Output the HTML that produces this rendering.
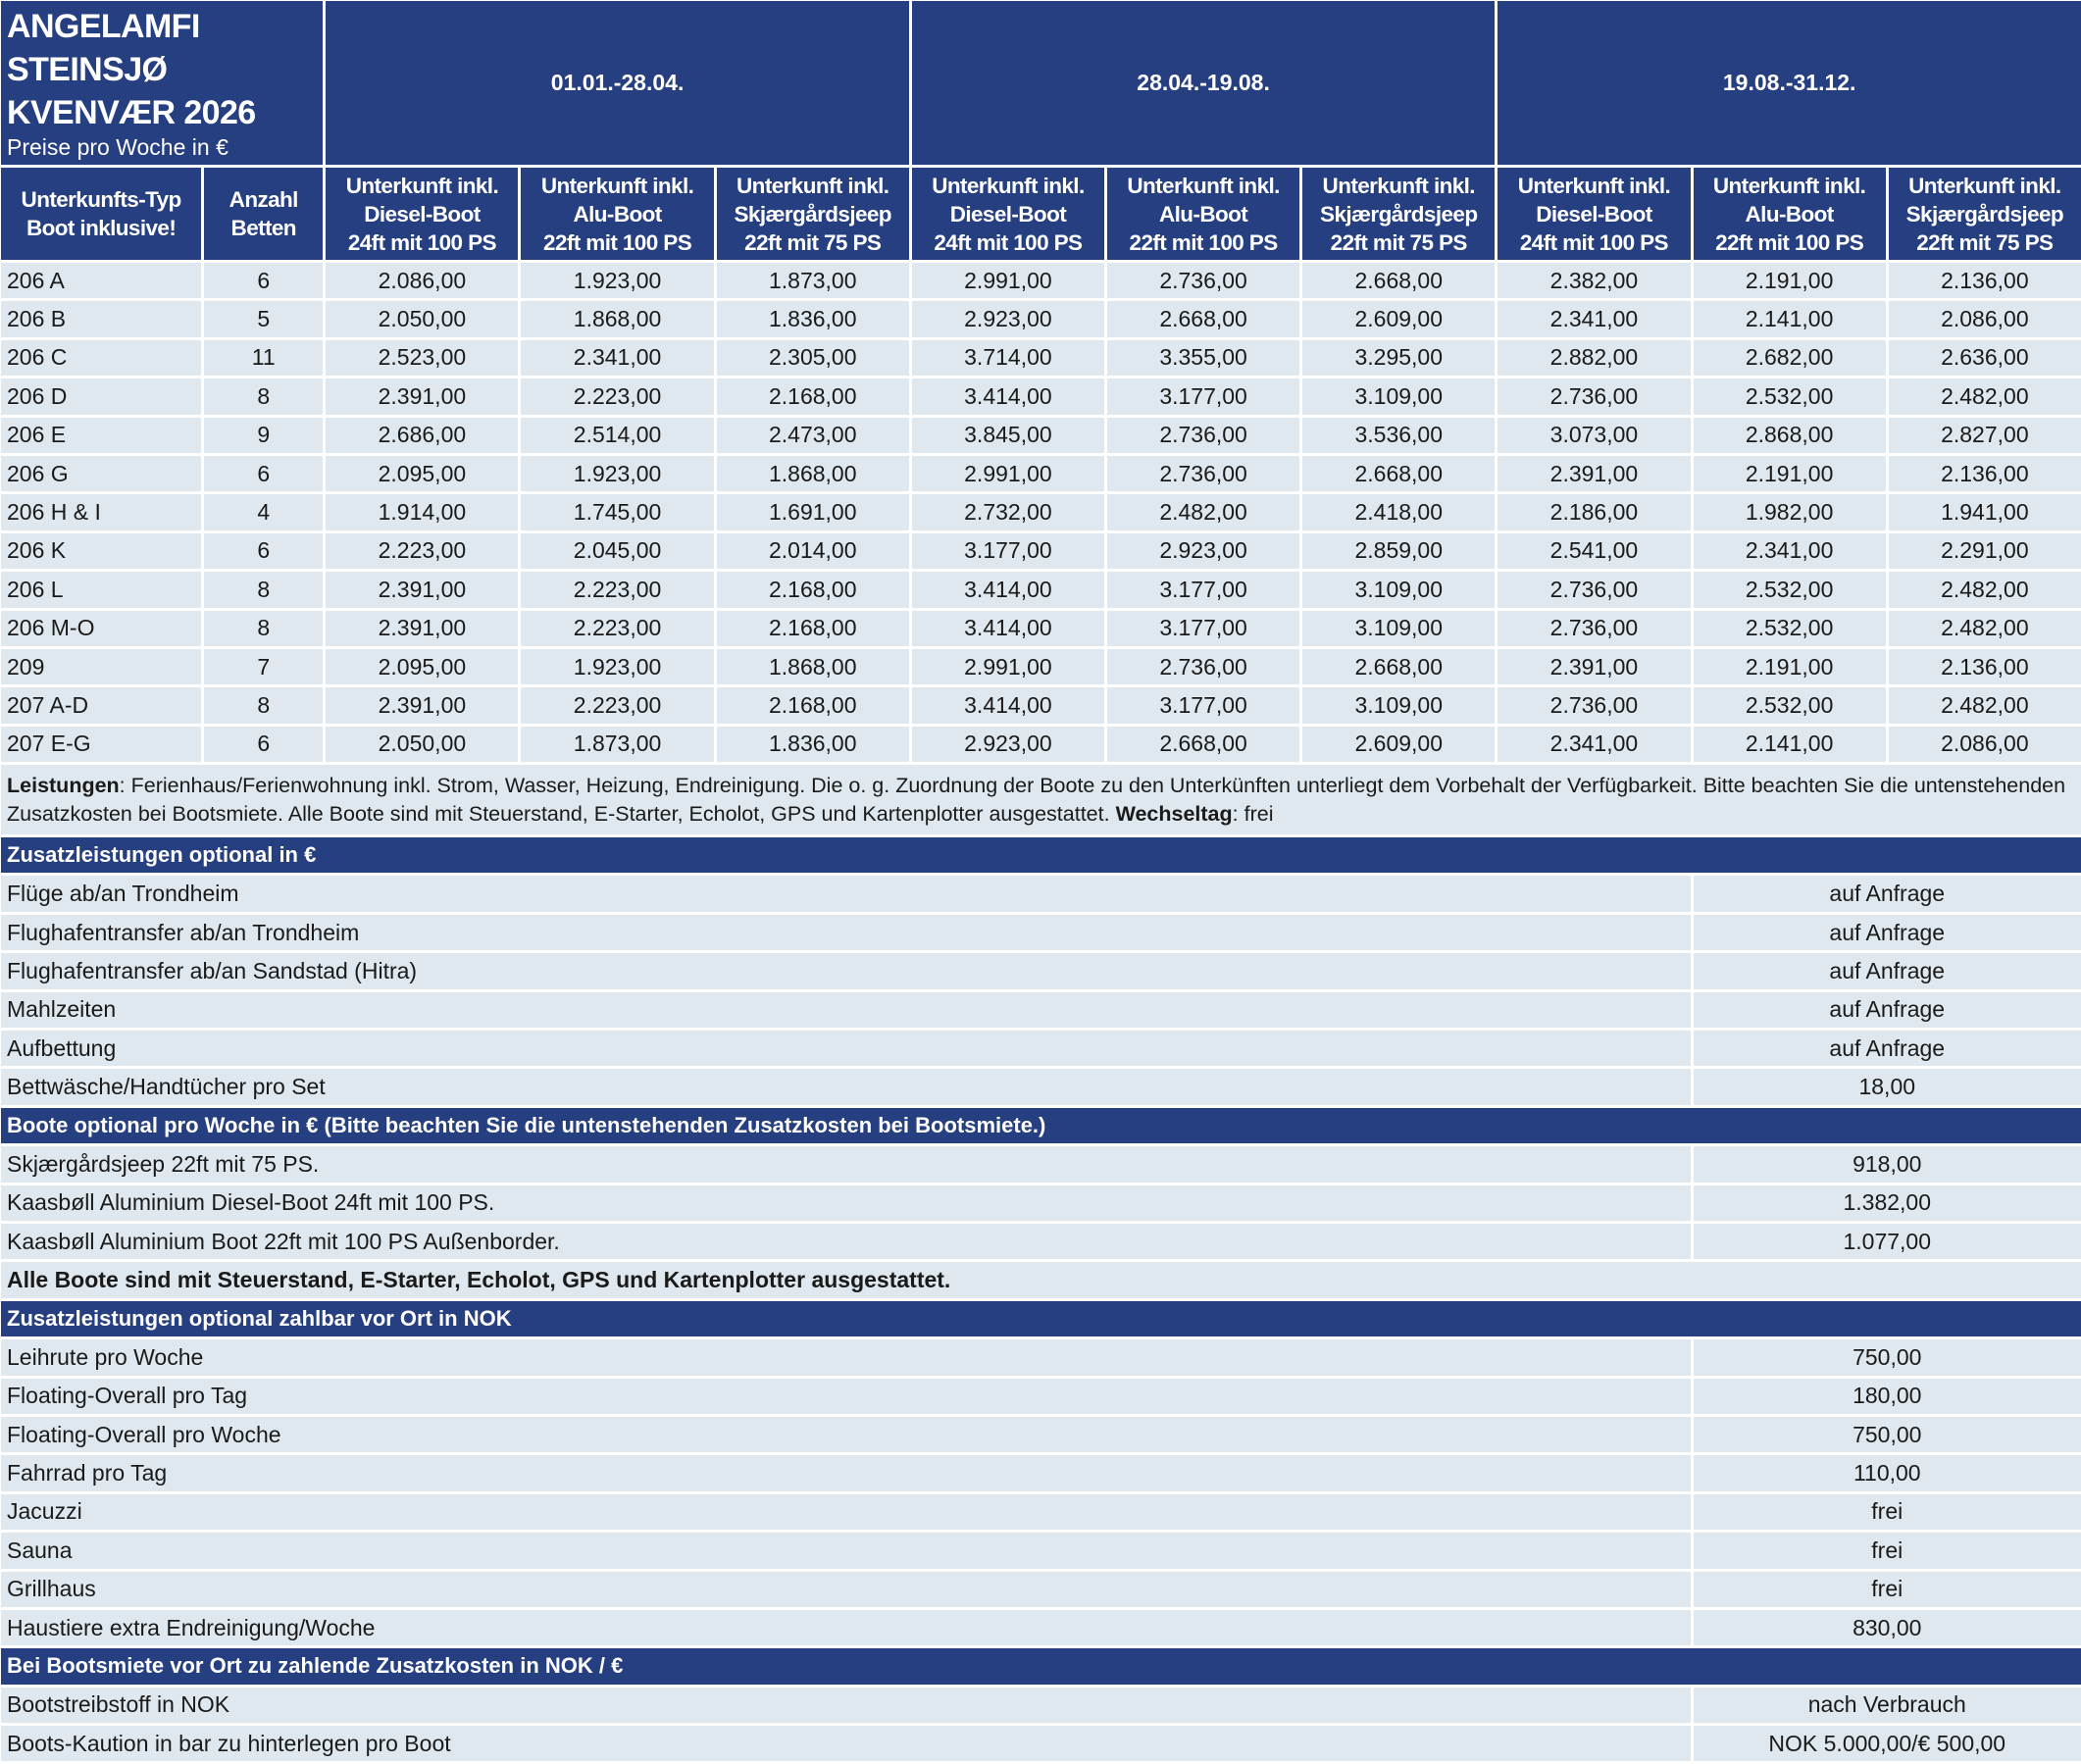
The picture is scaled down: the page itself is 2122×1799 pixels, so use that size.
<!DOCTYPE html>
<html><head><meta charset="utf-8"><style>
html,body{margin:0;padding:0;background:#fff;width:2122px;height:1797px;overflow:hidden}
table{position:absolute;left:-2px;top:-2px;border-collapse:separate;border-spacing:3px;table-layout:fixed;width:2127px;font-family:"Liberation Sans",sans-serif;color:#1a1a1a}
td{padding:0 6px;overflow:hidden;white-space:nowrap;font-size:23px;background:#dfe8ee;height:36.4px;text-align:center;box-sizing:border-box}
td.l{text-align:left}
.h td,.bar td{background:#263f80;color:#fff;font-weight:bold}
.h2 td{font-size:22.5px;line-height:29px;letter-spacing:-0.6px;padding:0 1px}
.bar td{text-align:left;font-size:22px}
.title{vertical-align:top;text-align:left;padding:4px 6px}
.title b{display:block;font-size:34px;line-height:44px;letter-spacing:-0.6px}
.title span{font-weight:normal;font-size:23px}
.info td{white-space:normal;text-align:left;font-size:21.5px;line-height:29px;background:#dfe8ee;height:71px}
</style></head><body>
<table>
<colgroup><col style="width:204px"><col style="width:121px"><col span="9" style="width:196px"></colgroup>
<tr class="h"><td colspan="2" class="title" style="height:161px"><b>ANGELAMFI<br>STEINSJØ<br>KVENVÆR 2026</b><span>Preise pro Woche in €</span></td><td colspan="3">01.01.-28.04.</td><td colspan="3">28.04.-19.08.</td><td colspan="3">19.08.-31.12.</td></tr>
<tr class="h h2"><td style="height:94px">Unterkunfts-Typ<br>Boot inklusive!</td><td>Anzahl<br>Betten</td>
<td>Unterkunft inkl.<br>Diesel-Boot<br>24ft mit 100 PS</td><td>Unterkunft inkl.<br>Alu-Boot<br>22ft mit 100 PS</td><td>Unterkunft inkl.<br>Skjærgårdsjeep<br>22ft mit 75 PS</td>
<td>Unterkunft inkl.<br>Diesel-Boot<br>24ft mit 100 PS</td><td>Unterkunft inkl.<br>Alu-Boot<br>22ft mit 100 PS</td><td>Unterkunft inkl.<br>Skjærgårdsjeep<br>22ft mit 75 PS</td>
<td>Unterkunft inkl.<br>Diesel-Boot<br>24ft mit 100 PS</td><td>Unterkunft inkl.<br>Alu-Boot<br>22ft mit 100 PS</td><td>Unterkunft inkl.<br>Skjærgårdsjeep<br>22ft mit 75 PS</td></tr>
<tr><td class="l">206 A</td><td>6</td><td>2.086,00</td><td>1.923,00</td><td>1.873,00</td><td>2.991,00</td><td>2.736,00</td><td>2.668,00</td><td>2.382,00</td><td>2.191,00</td><td>2.136,00</td></tr>
<tr><td class="l">206 B</td><td>5</td><td>2.050,00</td><td>1.868,00</td><td>1.836,00</td><td>2.923,00</td><td>2.668,00</td><td>2.609,00</td><td>2.341,00</td><td>2.141,00</td><td>2.086,00</td></tr>
<tr><td class="l">206 C</td><td>11</td><td>2.523,00</td><td>2.341,00</td><td>2.305,00</td><td>3.714,00</td><td>3.355,00</td><td>3.295,00</td><td>2.882,00</td><td>2.682,00</td><td>2.636,00</td></tr>
<tr><td class="l">206 D</td><td>8</td><td>2.391,00</td><td>2.223,00</td><td>2.168,00</td><td>3.414,00</td><td>3.177,00</td><td>3.109,00</td><td>2.736,00</td><td>2.532,00</td><td>2.482,00</td></tr>
<tr><td class="l">206 E</td><td>9</td><td>2.686,00</td><td>2.514,00</td><td>2.473,00</td><td>3.845,00</td><td>2.736,00</td><td>3.536,00</td><td>3.073,00</td><td>2.868,00</td><td>2.827,00</td></tr>
<tr><td class="l">206 G</td><td>6</td><td>2.095,00</td><td>1.923,00</td><td>1.868,00</td><td>2.991,00</td><td>2.736,00</td><td>2.668,00</td><td>2.391,00</td><td>2.191,00</td><td>2.136,00</td></tr>
<tr><td class="l">206 H &amp; I</td><td>4</td><td>1.914,00</td><td>1.745,00</td><td>1.691,00</td><td>2.732,00</td><td>2.482,00</td><td>2.418,00</td><td>2.186,00</td><td>1.982,00</td><td>1.941,00</td></tr>
<tr><td class="l">206 K</td><td>6</td><td>2.223,00</td><td>2.045,00</td><td>2.014,00</td><td>3.177,00</td><td>2.923,00</td><td>2.859,00</td><td>2.541,00</td><td>2.341,00</td><td>2.291,00</td></tr>
<tr><td class="l">206 L</td><td>8</td><td>2.391,00</td><td>2.223,00</td><td>2.168,00</td><td>3.414,00</td><td>3.177,00</td><td>3.109,00</td><td>2.736,00</td><td>2.532,00</td><td>2.482,00</td></tr>
<tr><td class="l">206 M-O</td><td>8</td><td>2.391,00</td><td>2.223,00</td><td>2.168,00</td><td>3.414,00</td><td>3.177,00</td><td>3.109,00</td><td>2.736,00</td><td>2.532,00</td><td>2.482,00</td></tr>
<tr><td class="l">209</td><td>7</td><td>2.095,00</td><td>1.923,00</td><td>1.868,00</td><td>2.991,00</td><td>2.736,00</td><td>2.668,00</td><td>2.391,00</td><td>2.191,00</td><td>2.136,00</td></tr>
<tr><td class="l">207 A-D</td><td>8</td><td>2.391,00</td><td>2.223,00</td><td>2.168,00</td><td>3.414,00</td><td>3.177,00</td><td>3.109,00</td><td>2.736,00</td><td>2.532,00</td><td>2.482,00</td></tr>
<tr><td class="l">207 E-G</td><td>6</td><td>2.050,00</td><td>1.873,00</td><td>1.836,00</td><td>2.923,00</td><td>2.668,00</td><td>2.609,00</td><td>2.341,00</td><td>2.141,00</td><td>2.086,00</td></tr>
<tr class="info"><td colspan="11"><b>Leistungen</b>: Ferienhaus/Ferienwohnung inkl. Strom, Wasser, Heizung, Endreinigung. Die o. g. Zuordnung der Boote zu den Unterkünften unterliegt dem Vorbehalt der Verfügbarkeit. Bitte beachten Sie die untenstehenden Zusatzkosten bei Bootsmiete. Alle Boote sind mit Steuerstand, E-Starter, Echolot, GPS und Kartenplotter ausgestattet. <b>Wechseltag</b>: frei</td></tr>
<tr class="bar"><td colspan="11">Zusatzleistungen optional in €</td></tr>
<tr><td class="l" colspan="9">Flüge ab/an Trondheim</td><td colspan="2">auf Anfrage</td></tr>
<tr><td class="l" colspan="9">Flughafentransfer ab/an Trondheim</td><td colspan="2">auf Anfrage</td></tr>
<tr><td class="l" colspan="9">Flughafentransfer ab/an Sandstad (Hitra)</td><td colspan="2">auf Anfrage</td></tr>
<tr><td class="l" colspan="9">Mahlzeiten</td><td colspan="2">auf Anfrage</td></tr>
<tr><td class="l" colspan="9">Aufbettung</td><td colspan="2">auf Anfrage</td></tr>
<tr><td class="l" colspan="9">Bettwäsche/Handtücher pro Set</td><td colspan="2">18,00</td></tr>
<tr class="bar"><td colspan="11">Boote optional pro Woche in € (Bitte beachten Sie die untenstehenden Zusatzkosten bei Bootsmiete.)</td></tr>
<tr><td class="l" colspan="9">Skjærgårdsjeep 22ft mit 75 PS.</td><td colspan="2">918,00</td></tr>
<tr><td class="l" colspan="9">Kaasbøll Aluminium Diesel-Boot 24ft mit 100 PS.</td><td colspan="2">1.382,00</td></tr>
<tr><td class="l" colspan="9">Kaasbøll Aluminium Boot 22ft mit 100 PS Außenborder.</td><td colspan="2">1.077,00</td></tr>
<tr><td class="l" colspan="11" style="font-weight:bold">Alle Boote sind mit Steuerstand, E-Starter, Echolot, GPS und Kartenplotter ausgestattet.</td></tr>
<tr class="bar"><td colspan="11">Zusatzleistungen optional zahlbar vor Ort in NOK</td></tr>
<tr><td class="l" colspan="9">Leihrute pro Woche</td><td colspan="2">750,00</td></tr>
<tr><td class="l" colspan="9">Floating-Overall pro Tag</td><td colspan="2">180,00</td></tr>
<tr><td class="l" colspan="9">Floating-Overall pro Woche</td><td colspan="2">750,00</td></tr>
<tr><td class="l" colspan="9">Fahrrad pro Tag</td><td colspan="2">110,00</td></tr>
<tr><td class="l" colspan="9">Jacuzzi</td><td colspan="2">frei</td></tr>
<tr><td class="l" colspan="9">Sauna</td><td colspan="2">frei</td></tr>
<tr><td class="l" colspan="9">Grillhaus</td><td colspan="2">frei</td></tr>
<tr><td class="l" colspan="9">Haustiere extra Endreinigung/Woche</td><td colspan="2">830,00</td></tr>
<tr class="bar"><td colspan="11">Bei Bootsmiete vor Ort zu zahlende Zusatzkosten in NOK / €</td></tr>
<tr><td class="l" colspan="9">Bootstreibstoff in NOK</td><td colspan="2">nach Verbrauch</td></tr>
<tr><td class="l" colspan="9">Boots-Kaution in bar zu hinterlegen pro Boot</td><td colspan="2">NOK 5.000,00/€ 500,00</td></tr>
</table>
</body></html>
